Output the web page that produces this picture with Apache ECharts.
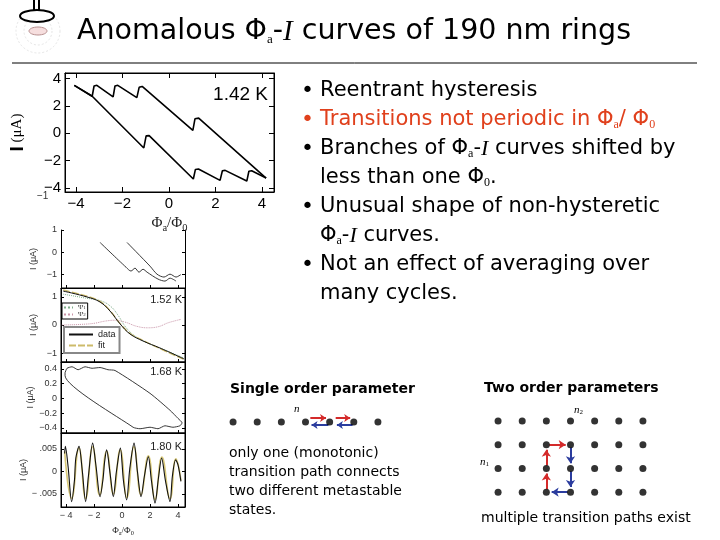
<!DOCTYPE html>
<html>
<head>
<meta charset="utf-8">
<title>Anomalous Φa-I curves of 190 nm rings</title>
<script src="https://cdn.jsdelivr.net/npm/echarts@6/dist/echarts.min.js"></script>
<style>
html, body { margin: 0; padding: 0; background: #fff; }
#chart { width: 720px; height: 540px; }
</style>
</head>
<body>
<div id="chart"></div>
<script>
// ---- values ----
const xTicks = [-4, -2, 0, 2, 4]
const yTicks142 = [-4, -2, 0, 2, 4]
const yTicksUA = [-1, 0, 1]
const yTicks168 = [-0.4, -0.2, 0, 0.2, 0.4]
const yTicks180 = [-0.005, 0, 0.005]

// 1.42 K: hysteretic loop, two sweep branches
const upper142 = [[-4.07, 3.5], [-3.3, 2.7], [-3.22, 3.45], [-3.1, 3.5], [-2.4, 2.65], [-2.32, 3.45], [-2.2, 3.5],
  [-1.38, 2.6], [-1.28, 3.35], [-1.15, 3.42], [1.03, 0.2], [1.12, 1.05], [1.28, 1.1], [4.18, -3.28]]
const lower142 = [[-4.07, 3.5], [-3.3, 2.7], [-1.08, -1.08], [-0.98, -0.2], [-0.85, -0.18], [1.05, -3.35], [1.14, -2.65],
  [1.27, -2.62], [2.2, -3.45], [2.3, -2.75], [2.42, -2.72], [3.35, -3.5], [3.44, -2.78], [3.56, -2.75], [4.18, -3.28]]

// partly hidden panel (two sweeps)
const sweepA = [[-1.57, 0.44], [0.29, -0.67], [0.64, -0.84], [0.93, -0.71], [1.21, -0.89], [1.5, -0.76], [1.79, -0.89],
  [2.57, -1.2], [3.07, -1.29], [3.43, -1.16], [3.86, -1.29]]
const sweepB = [[0.36, 0.44], [2.0, -0.62], [2.5, -0.98], [3.0, -1.11], [3.43, -0.98], [3.86, -1.11], [4.2, -1.0]]

// 1.52 K: data, fit and the two components
const data152 = [[-4.2, 1.21], [-2.5, 1.0], [-1.57, 0.82], [-0.86, 0.5], [-0.14, 0.04], [0.57, -0.32], [1.5, -0.57],
  [2.71, -0.82], [4.43, -1.21]]
const fit152 = [[-4.2, 1.25], [-2.5, 1.03], [-1.6, 0.85], [-0.9, 0.54], [-0.15, 0.06], [0.6, -0.31], [1.5, -0.55],
  [2.7, -0.84], [4.43, -1.23]]
const psi1_152 = [[-4.2, 1.1], [-2.6, 0.96], [-1.5, 0.86], [-0.8, 0.66], [-0.3, 0.36], [0.3, -0.1], [1.0, -0.42],
  [2.0, -0.68], [3.2, -0.92], [4.43, -1.18]]
const psi2_152 = [[-4.3, 0.0], [-3.0, 0.02], [-2.0, 0.06], [-1.2, 0.14], [-0.5, 0.17], [0.3, 0.09], [1.0, -0.04],
  [1.8, -0.1], [2.6, -0.06], [3.3, 0.08], [4.2, 0.2]]

// 1.68 K: small loop, traced once around
const loop168 = [[-4.07, 0.35], [-3.93, 0.41], [-3.57, 0.43], [-3.14, 0.39], [-2.64, 0.43], [-2.14, 0.41], [-1.57, 0.42],
  [-1.0, 0.39], [-0.5, 0.38], [2.0, 0.07], [3.43, -0.16], [4.0, -0.27], [4.29, -0.33], [4.14, -0.37], [3.64, -0.39],
  [3.07, -0.37], [2.57, -0.41], [2.0, -0.39], [1.29, -0.41], [0.79, -0.39], [-4.07, 0.31], [-4.07, 0.35]]

// 1.80 K: oscillating current
const data180 = [[-4.1, 0.004], [-4.05, 0.0056], [-3.85, 0.001], [-3.6, -0.0067], [-3.4, -0.002], [-3.3, 0.003],
  [-3.07, 0.0056], [-2.85, 0.0005], [-2.6, -0.0067], [-2.4, -0.001], [-2.1, 0.0063], [-1.85, 0.001], [-1.57, -0.0056],
  [-1.35, -0.0015], [-1.25, 0.002], [-1.1, 0.0048], [-0.85, -0.0005], [-0.62, -0.0056], [-0.4, 0.0], [-0.12, 0.0052],
  [0.1, -0.002], [0.33, -0.0063], [0.55, 0.0005], [0.86, 0.0063], [1.1, 0.0], [1.36, -0.0056], [1.6, -0.001],
  [1.88, 0.0033], [2.1, -0.002], [2.36, -0.007], [2.6, -0.0015], [2.83, 0.003], [3.1, -0.002], [3.43, -0.0067],
  [3.6, -0.001], [3.83, 0.0026], [4.0, 0.0015], [4.21, -0.0022]]
const fit180 = [[-4.1, 0.0045], [-3.6, -0.006], [-3.08, 0.0052], [-2.6, -0.006], [-2.1, 0.0055], [-1.6, -0.0052],
  [-1.1, 0.0045], [-0.62, -0.005], [-0.13, 0.0048], [0.35, -0.0058], [0.85, 0.0055], [1.36, -0.0052], [1.88, 0.0035],
  [2.36, -0.0062], [2.85, 0.0032], [3.43, -0.006], [3.85, 0.0028], [4.21, -0.002]]

// order parameter lattices
const chainDots = [[0, 0], [1, 0], [2, 0], [3, 0], [4, 0], [5, 0], [6, 0]]
const chainRight = [[[3.2, 0.2], [3.85, 0.2]], [[4.25, 0.2], [4.85, 0.2]]]
const chainLeft = [[[3.95, -0.15], [3.25, -0.15]], [[4.95, -0.15], [4.3, -0.15]]]
const gridDots = []
for (let r = 0; r < 4; r++) for (let c = 0; c < 7; c++) gridDots.push([c, r])
const pathUp = [[[2, 0.12], [2, 0.78]], [[2, 1.12], [2, 1.78]], [[2.12, 2], [2.8, 2]]]
const pathDown = [[[3, 1.88], [3, 1.22]], [[3, 0.88], [3, 0.22]], [[2.88, 0], [2.22, 0]]]

const SANS = 'Liberation Sans'
const TEXT = 'DejaVu Sans'
const SERIF = 'Liberation Serif'
const RED = '#e0401c'
const minus = v => String(v).replace('-', '−')

function ax (extra) {
  return Object.assign({
    type: 'value',
    splitLine: { show: false },
    axisLine: { show: true, onZero: false, lineStyle: { color: '#000', width: 1 } },
    axisTick: { show: true, inside: true, length: 3, lineStyle: { color: '#000' } },
    axisLabel: { show: false }
  }, extra)
}
function ticks (vals, len) {
  return { show: true, inside: true, length: len, customValues: vals, lineStyle: { color: '#000' } }
}
function labels (vals, size, fmt, color) {
  return { show: true, customValues: vals, fontSize: size, fontFamily: SANS, color: color, margin: 4, formatter: fmt }
}
const smallName = {
  name: 'I (μA)', nameLocation: 'middle', nameGap: 23, nameRotate: 90,
  nameTextStyle: { fontSize: 9, fontFamily: SANS, color: '#333' }
}
const phiRich = (size) => ({
  fontSize: size, fontFamily: SERIF, color: '#222',
  rich: { s: { fontSize: size * 0.7, fontFamily: SERIF, color: '#222', padding: [size * 0.7, 0, 0, 0] } }
})

const smallX = [-4.36, 4.5]

const myChart = echarts.init(document.getElementById('chart'))
const option = {
  backgroundColor: '#fff',
  animation: false,
  grid: [
    { left: 65, top: 73, width: 209, height: 119, show: true, borderColor: '#000', borderWidth: 1 },
    { left: 61, top: 230, width: 124, height: 58 },
    { left: 61, top: 288, width: 124, height: 74, show: true, borderColor: '#000', borderWidth: 1 },
    { left: 61, top: 362, width: 124, height: 71, show: true, borderColor: '#000', borderWidth: 1 },
    { left: 61, top: 433, width: 124, height: 74, show: true, borderColor: '#000', borderWidth: 1 },
    { left: 221, top: 402, width: 169, height: 40 },
    { left: 486, top: 409, width: 169, height: 95 }
  ],
  xAxis: [
    ax({ gridIndex: 0, min: -4.47, max: 4.52, axisTick: ticks(xTicks, 5),
      axisLabel: labels(xTicks, 15, minus, '#000'),
      name: 'Φ{s|a}/Φ{s|0}', nameLocation: 'middle', nameGap: 20, nameTextStyle: phiRich(15) }),
    ax({ gridIndex: 0, position: 'top', min: -4.47, max: 4.52, axisTick: ticks(xTicks, 5) }),
    ax({ gridIndex: 1, min: smallX[0], max: smallX[1], axisTick: ticks(xTicks, 3) }),
    ax({ gridIndex: 2, min: smallX[0], max: smallX[1], axisTick: ticks(xTicks, 3) }),
    ax({ gridIndex: 3, min: smallX[0], max: smallX[1], axisTick: ticks(xTicks, 3) }),
    ax({ gridIndex: 4, min: smallX[0], max: smallX[1], axisTick: ticks(xTicks, 3),
      axisLabel: labels(xTicks, 9, v => (v < 0 ? '− ' + (-v) : String(v)), '#333'),
      name: 'Φ{s|a}/Φ{s|0}', nameLocation: 'middle', nameGap: 17, nameTextStyle: phiRich(9) }),
    { gridIndex: 5, type: 'value', min: -0.5, max: 6.5, show: false },
    { gridIndex: 6, type: 'value', min: -0.5, max: 6.5, show: false }
  ],
  yAxis: [
    ax({ gridIndex: 0, min: -4.3, max: 4.4, axisTick: ticks(yTicks142, 5),
      axisLabel: labels(yTicks142, 15, minus, '#000'),
      name: '{b|I} (μA)', nameLocation: 'middle', nameGap: 38, nameRotate: 90,
      nameTextStyle: { fontSize: 15, fontFamily: SERIF, color: '#000',
        rich: { b: { fontSize: 19, fontFamily: SANS, fontWeight: 'bold', color: '#000' } } } }),
    ax({ gridIndex: 0, position: 'right', min: -4.3, max: 4.4, axisTick: ticks(yTicks142, 5) }),
    ax(Object.assign({ gridIndex: 1, min: -1.6, max: 1, axisTick: ticks(yTicksUA, 3),
      axisLabel: labels(yTicksUA, 9, minus, '#333') }, smallName)),
    ax({ gridIndex: 1, position: 'right', min: -1.6, max: 1, axisTick: ticks(yTicksUA, 3) }),
    ax(Object.assign({ gridIndex: 2, min: -1.32, max: 1.32, axisTick: ticks(yTicksUA, 3),
      axisLabel: labels(yTicksUA, 9, minus, '#333') }, smallName)),
    ax({ gridIndex: 2, position: 'right', min: -1.32, max: 1.32, axisTick: ticks(yTicksUA, 3) }),
    ax(Object.assign({ gridIndex: 3, min: -0.468, max: 0.495, axisTick: ticks(yTicks168, 3),
      axisLabel: labels(yTicks168, 9, minus, '#333') }, smallName)),
    ax({ gridIndex: 3, position: 'right', min: -0.468, max: 0.495, axisTick: ticks(yTicks168, 3) }),
    ax(Object.assign({ gridIndex: 4, min: -0.00789, max: 0.00856, axisTick: ticks(yTicks180, 3),
      axisLabel: labels(yTicks180, 9, v => (v === 0 ? '0' : (v > 0 ? '.005' : '− .005')), '#333') }, smallName)),
    ax({ gridIndex: 4, position: 'right', min: -0.00789, max: 0.00856, axisTick: ticks(yTicks180, 3) }),
    { gridIndex: 5, type: 'value', min: -1, max: 1, show: false },
    { gridIndex: 6, type: 'value', min: -0.5, max: 3.5, show: false }
  ],
  legend: [
    {
      data: ['data', 'fit'], orient: 'vertical', left: 64, top: 327, padding: [3, 4, 3, 4], itemGap: 2,
      itemWidth: 24, itemHeight: 10, borderColor: '#888', borderWidth: 2, backgroundColor: '#fff',
      itemStyle: { opacity: 0 },
      textStyle: { fontSize: 9, fontFamily: SANS, color: '#222' }, selectedMode: false
    },
    {
      data: ['Ψ1', 'Ψ2'], orient: 'vertical', left: 62, top: 303, padding: [1, 2, 1, 1], itemGap: 0,
      itemWidth: 9, itemHeight: 7, borderColor: '#000', borderWidth: 1,
      itemStyle: { opacity: 0 },
      formatter: n => 'Ψ{s|' + n.slice(1) + '}',
      textStyle: { fontSize: 7, fontFamily: SERIF, color: '#333', rich: { s: { fontSize: 5, color: '#333' } } },
      selectedMode: false
    }
  ],
  series: [
    { type: 'line', name: 'upper 1.42 K', xAxisIndex: 0, yAxisIndex: 0, data: upper142, symbol: 'none',
      lineStyle: { color: '#000', width: 1.6 } },
    { type: 'line', name: 'lower 1.42 K', xAxisIndex: 0, yAxisIndex: 0, data: lower142, symbol: 'none',
      lineStyle: { color: '#000', width: 1.6 } },
    { type: 'line', name: 'sweep A', xAxisIndex: 2, yAxisIndex: 2, data: sweepA, symbol: 'none', smooth: 0.3,
      lineStyle: { color: '#222', width: 0.9 } },
    { type: 'line', name: 'sweep B', xAxisIndex: 2, yAxisIndex: 2, data: sweepB, symbol: 'none', smooth: 0.3,
      lineStyle: { color: '#222', width: 0.9 } },
    { type: 'line', name: 'Ψ1', xAxisIndex: 3, yAxisIndex: 4, data: psi1_152, symbol: 'none', smooth: 0.4,
      lineStyle: { color: '#7fae8a', width: 1, type: 'dotted' }, itemStyle: { color: '#7fae8a' } },
    { type: 'line', name: 'Ψ2', xAxisIndex: 3, yAxisIndex: 4, data: psi2_152, symbol: 'none', smooth: 0.4,
      lineStyle: { color: '#c994a8', width: 1, type: 'dotted' }, itemStyle: { color: '#c994a8' } },
    { type: 'line', name: 'fit', xAxisIndex: 3, yAxisIndex: 4, data: fit152, symbol: 'none', smooth: 0.4,
      lineStyle: { color: '#cdbb6a', width: 1.3, type: [7, 2] }, itemStyle: { color: '#cdbb6a' } },
    { type: 'line', name: 'data', xAxisIndex: 3, yAxisIndex: 4, data: data152, symbol: 'none', smooth: 0.4,
      lineStyle: { color: '#111', width: 1 }, itemStyle: { color: '#111' } },
    { type: 'line', name: 'loop 1.68 K', xAxisIndex: 4, yAxisIndex: 6, data: loop168, symbol: 'none', smooth: 0.2,
      lineStyle: { color: '#222', width: 0.9 } },
    { type: 'line', name: 'fit 1.80 K', xAxisIndex: 5, yAxisIndex: 8, data: fit180, symbol: 'none', smooth: 0.5,
      lineStyle: { color: '#d8c878', width: 1.6 } },
    { type: 'line', name: 'data 1.80 K', xAxisIndex: 5, yAxisIndex: 8, data: data180, symbol: 'none', smooth: 0.3,
      lineStyle: { color: '#111', width: 1.1 } },
    // single order parameter chain
    { type: 'scatter', xAxisIndex: 6, yAxisIndex: 10, data: chainDots, symbolSize: 7, itemStyle: { color: '#000' } },
    { type: 'lines', coordinateSystem: 'cartesian2d', xAxisIndex: 6, yAxisIndex: 10,
      data: chainRight.map(c => ({ coords: c })), symbol: ['none', 'arrow'], symbolSize: 6,
      lineStyle: { color: '#d42a2a', width: 2, opacity: 1 } },
    { type: 'lines', coordinateSystem: 'cartesian2d', xAxisIndex: 6, yAxisIndex: 10,
      data: chainLeft.map(c => ({ coords: c })), symbol: ['none', 'arrow'], symbolSize: 6,
      lineStyle: { color: '#2b3c9e', width: 2, opacity: 1 } },
    // two order parameters lattice
    { type: 'scatter', xAxisIndex: 7, yAxisIndex: 11, data: gridDots, symbolSize: 7, itemStyle: { color: '#000' } },
    { type: 'lines', coordinateSystem: 'cartesian2d', xAxisIndex: 7, yAxisIndex: 11,
      data: pathUp.map(c => ({ coords: c })), symbol: ['none', 'arrow'], symbolSize: 7,
      lineStyle: { color: '#d42a2a', width: 2, opacity: 1 } },
    { type: 'lines', coordinateSystem: 'cartesian2d', xAxisIndex: 7, yAxisIndex: 11,
      data: pathDown.map(c => ({ coords: c })), symbol: ['none', 'arrow'], symbolSize: 7,
      lineStyle: { color: '#2b3c9e', width: 2, opacity: 1 } }
  ]
}

// slide text and decorations
const bulletRich = {
  n: { fontSize: 21, fontFamily: TEXT, fill: '#000' },
  r: { fontSize: 21, fontFamily: TEXT, fill: RED },
  s: { fontSize: 12, fontFamily: SERIF, fill: '#000', lineHeight: 2, verticalAlign: 'bottom' },
  rs: { fontSize: 12, fontFamily: SERIF, fill: RED, lineHeight: 2, verticalAlign: 'bottom' },
  i: { fontSize: 22, fontFamily: SERIF, fontStyle: 'italic', fill: '#000' }
}
const bulletLines = [
  '{n|Reentrant hysteresis}',
  '{r|Transitions not periodic in Φ}{rs|a}{r|/ Φ}{rs|0}',
  '{n|Branches of Φ}{s|a}{n|-}{i|I}{n| curves shifted by}',
  '{n|less than one Φ}{s|0}{n|.}',
  '{n|Unusual shape of non-hysteretic}',
  '{n|Φ}{s|a}{n|-}{i|I}{n| curves.}',
  '{n|Not an effect of averaging over}',
  '{n|many cycles.}'
]
const bulletDots = [0, 1, 2, 4, 6]
const lineText = (x, y, text, rich, extra) => ({
  type: 'text', z: 100,
  style: Object.assign({ x: x, y: y, text: text, rich: rich, verticalAlign: 'middle', align: 'left' }, extra || {})
})
const plain = (x, y, text, size, extra) => ({
  type: 'text', z: 100,
  style: Object.assign({ x: x, y: y, text: text, fontSize: size, fontFamily: TEXT, fill: '#000',
    verticalAlign: 'middle', align: 'left' }, extra || {})
})

const graphic = []
// logo
graphic.push({ type: 'circle', shape: { cx: 38, cy: 31, r: 22 }, style: { fill: 'none', stroke: '#e6e6e6', lineWidth: 1, lineDash: [2, 2] } })
graphic.push({ type: 'circle', shape: { cx: 38, cy: 31, r: 14 }, style: { fill: 'none', stroke: '#e6e6e6', lineWidth: 1, lineDash: [2, 2] } })
graphic.push({ type: 'line', shape: { x1: 34, y1: 0, x2: 34, y2: 10 }, style: { stroke: '#000', lineWidth: 2 } })
graphic.push({ type: 'line', shape: { x1: 39, y1: 0, x2: 39, y2: 10 }, style: { stroke: '#000', lineWidth: 2 } })
graphic.push({ type: 'ellipse', shape: { cx: 37, cy: 16, rx: 17, ry: 6 }, style: { fill: '#fff', stroke: '#000', lineWidth: 2 } })
graphic.push({ type: 'ellipse', shape: { cx: 38, cy: 31, rx: 9, ry: 4 }, style: { fill: '#f6dede', stroke: '#b89090', lineWidth: 1 } })
// title and rule
graphic.push(lineText(77, 32, '{t|Anomalous Φ}{s|a}{t|-}{i|I}{t| curves of 190 nm rings}', {
  t: { fontSize: 28.5, fontFamily: TEXT, fill: '#000' },
  s: { fontSize: 13, fontFamily: SERIF, fill: '#000', lineHeight: 1, verticalAlign: 'bottom' },
  i: { fontSize: 29, fontFamily: SERIF, fontStyle: 'italic', fill: '#000' }
}))
graphic.push({ type: 'line', shape: { x1: 12, y1: 63, x2: 697, y2: 63 }, style: { stroke: '#000', lineWidth: 1 } })
// bullets
bulletLines.forEach((t, k) => graphic.push(lineText(320, 91 + 29 * k, t, bulletRich)))
bulletDots.forEach(k => graphic.push(plain(301, 91 + 29 * k, '•', 22, k === 1 ? { fill: RED } : {})))
// temperatures
graphic.push(plain(268, 95, '1.42 K', 19, { align: 'right', fontFamily: SANS }))
graphic.push(plain(182, 300, '1.52 K', 11, { align: 'right', fill: '#222', fontFamily: SANS }))
graphic.push(plain(182, 372, '1.68 K', 11, { align: 'right', fill: '#222', fontFamily: SANS }))
graphic.push(plain(182, 447, '1.80 K', 11, { align: 'right', fill: '#222', fontFamily: SANS }))
graphic.push(plain(37, 196, '−1', 10, { fill: '#333', fontFamily: SANS }))
// order parameter panels
graphic.push(plain(230, 389, 'Single order parameter', 14, { fontWeight: 'bold' }))
graphic.push(plain(484, 388, 'Two order parameters', 14, { fontWeight: 'bold' }))
;['only one (monotonic)', 'transition path connects', 'two different metastable', 'states.']
  .forEach((t, k) => graphic.push(plain(229, 453 + 19 * k, t, 14)))
graphic.push(plain(481, 518, 'multiple transition paths exist', 14))
const nRich = {
  i: { fontSize: 11, fontFamily: SERIF, fontStyle: 'italic', fill: '#000' },
  s: { fontSize: 7, fontFamily: SERIF, fill: '#000', lineHeight: 2, verticalAlign: 'bottom' }
}
graphic.push(lineText(294, 409, '{i|n}', nRich))
graphic.push(lineText(574, 410, '{i|n}{s|2}', nRich))
graphic.push(lineText(480, 462, '{i|n}{s|1}', nRich))

option.graphic = graphic
myChart.setOption(option)
</script>
</body>
</html>
